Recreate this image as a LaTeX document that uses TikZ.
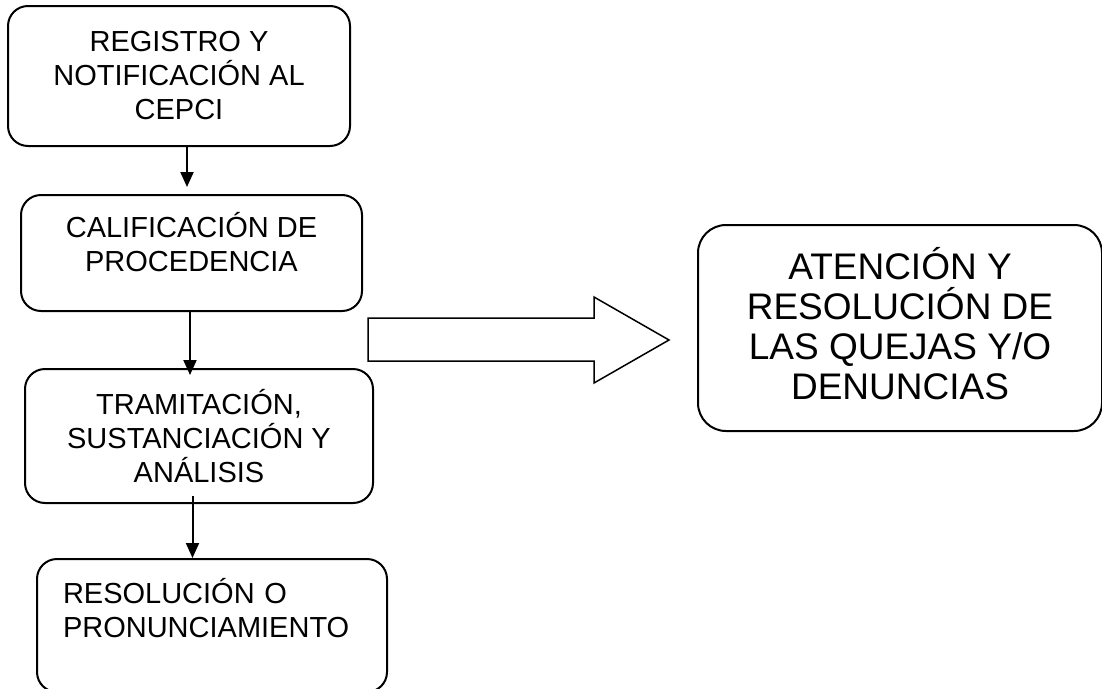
\documentclass[tikz,border=0pt]{standalone}
\usepackage{fontspec}
\setmainfont{Liberation Sans}
\usetikzlibrary{arrows.meta}

\tikzset{
  caja/.style={draw, line width=2pt, rounded corners=20pt, inner sep=0pt,
    align=center, font=\fontsize{29}{34}\selectfont},
  flecha/.style={line width=2pt, -{Triangle[length=15pt,width=13pt]}}
}

\begin{document}
\begin{tikzpicture}[x=1pt,y=-1pt]
    \useasboundingbox (0,0) rectangle (1102,688);

    % Pasos del proceso
    \node[caja, minimum width=342pt, minimum height=140pt] (reg) at (179,76)
        {REGISTRO Y\\NOTIFICACIÓN AL\\CEPCI};
    \node[caja, minimum width=341pt, minimum height=116pt, text depth=22pt] (cal) at (191.5,253)
        {CALIFICACIÓN DE\\PROCEDENCIA};
    \node[caja, minimum width=348pt, minimum height=134pt] (tram) at (199,436)
        {TRAMITACIÓN,\\SUSTANCIACIÓN Y\\ANÁLISIS};
    \node[caja, minimum width=350pt, minimum height=133pt, align=left, text width=298pt,
        text depth=70pt] (res) at (212,625.5)
        {RESOLUCIÓN O\\PRONUNCIAMIENTO};

    % Flechas entre pasos
    \draw[flecha] ([xshift=8pt]reg.south) -- ([xshift=-4.5pt,yshift=7pt]cal.north);
    \draw[flecha] ([xshift=-1.5pt]cal.south) -- ([xshift=-9pt,yshift=-7pt]tram.north);
    \draw[flecha] ([xshift=-6.5pt,yshift=8pt]tram.south) -- ([xshift=-19.5pt]res.north);

    % Flecha gruesa hacia el resultado
    \draw[line width=1.5pt, line join=miter] (368,318) -- (594,318) -- (594,297) -- (669,340)
        -- (594,383) -- (594,361) -- (368,361) -- cycle;

    % Resultado
    \node[caja, rounded corners=28pt, minimum width=404pt, minimum height=206pt, text depth=10pt,
        font=\fontsize{37}{40}\selectfont] (aten) at (900,328)
        {ATENCIÓN Y\\RESOLUCIÓN DE\\LAS QUEJAS Y/O\\DENUNCIAS};
\end{tikzpicture}
\end{document}
